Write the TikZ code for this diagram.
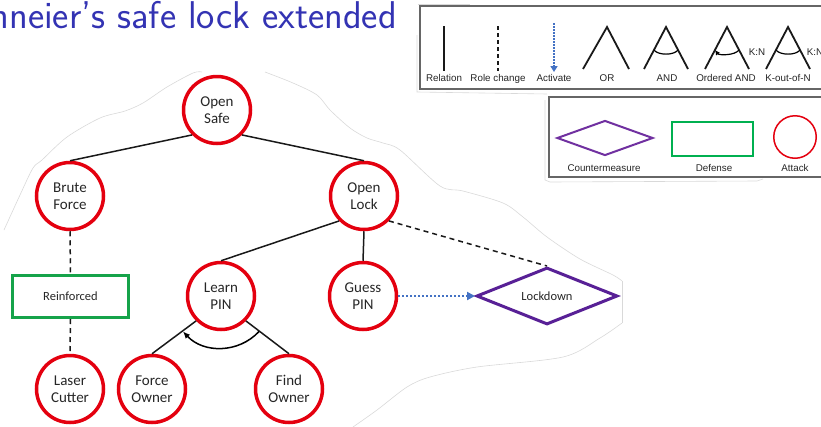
\documentclass[tikz,border=0pt]{standalone}
\usepackage{fontspec}
\newfontfamily\calib{Carlito}
\newfontfamily\arialf{Liberation Sans}
\usetikzlibrary{shapes.geometric,arrows.meta}

\definecolor{attackred}{RGB}{228,0,15}
\definecolor{defgreen}{RGB}{22,163,74}
\definecolor{leggreen}{RGB}{0,176,80}
\definecolor{cmpurple}{RGB}{88,32,150}
\definecolor{legpurple}{RGB}{112,48,160}
\definecolor{actblue}{RGB}{68,114,196}
\definecolor{titleblue}{RGB}{51,51,179}

\tikzset{
  attack/.style={circle, draw=attackred, line width=3.5pt, minimum size=67pt,
    inner sep=0pt, align=center, text=black!85,
    font=\calib\fontsize{15}{17.5}\selectfont},
  defense/.style={rectangle, draw=defgreen, line width=3pt,
    minimum width=116pt, minimum height=42pt, inner sep=0pt, text=black!85,
    font=\calib\fontsize{12.5}{15}\selectfont},
  counter/.style={diamond, draw=cmpurple, line width=3pt, aspect=2.47,
    minimum width=141pt, minimum height=57pt, inner sep=0pt, text=black!85,
    font=\calib\fontsize{12.5}{15}\selectfont},
  rel/.style={line width=1.5pt, draw=black!90},
  rolechg/.style={line width=1.5pt, draw=black!90, dash pattern=on 5pt off 4pt},
  activ/.style={draw=actblue, line width=2pt, dash pattern=on 2pt off 2pt,
    -{Triangle[length=8pt,width=8pt]}},
  faint/.style={draw=gray!30, line width=0.6pt},
  legframe/.style={draw=gray!80!black, line width=1.2pt, fill=white},
  legsym/.style={line width=1.8pt, draw=black!90},
  leglabel/.style={anchor=base, inner sep=0pt, text=black!85,
    font=\arialf\fontsize{9.8}{11}\selectfont},
}

\begin{document}
\begin{tikzpicture}[x=1pt,y=-1pt]
\useasboundingbox (0,0) rectangle (821,426);
\clip (0,0) rectangle (821,426);

% slide title (runs off the left edge)
\node[anchor=base east, inner sep=0pt, text=titleblue,
  font=\sffamily\fontsize{38.7}{42}\selectfont] (title) at (397,28.3)
  {Schneier's safe lock extended};

% faint outline of the pasted tree picture
\draw[faint] plot[smooth, tension=0.5] coordinates {(4,230) (20,195) (33,168)
  (42,160) (67,137) (100,118) (125,111) (143,103) (167,87) (193,73) (202,72)};
\draw[faint] plot[smooth, tension=0.5] coordinates {(265,72) (293,83) (317,95)
  (330,110) (350,128) (367,138) (383,143) (400,150) (440,186) (463,191)
  (503,203) (523,217) (547,237) (580,259) (613,275) (622,281)};
\draw[faint] (622,281) -- (622,323);
\draw[faint] plot[smooth, tension=0.5] coordinates {(622,323) (600,338)
  (563,357) (477,367) (430,377) (407,387) (377,410) (353,427)};

% faint edges round the legend pictures
\draw[faint] (417,35) -- (417,92) -- (547,94);
\draw[faint] (418,4) -- (470,4);
\draw[faint] (545,100) -- (545,180) -- (550,182) -- (757,181) -- (763,179);

% ---------- legend: connector kinds ----------
\draw[legframe] (420,6) rectangle (830,89);
\draw[legsym] (444,26) -- (444,71);
\draw[legsym, dash pattern=on 4pt off 3pt] (498,26) -- (498,71);
\draw[draw=actblue, line width=1.5pt, dash pattern=on 1.5pt off 1.5pt,
  -{Triangle[length=6pt,width=7pt]}] (554,23) -- (554,72);
\draw[legsym] (583,69) -- (607,27) -- (629,69);
\draw[legsym] (644,69) -- (666,27) -- (688,69);
\draw[line width=1.2pt] (678,50) .. controls (674,55.5) and (658,55.5) .. (654,50);
\draw[legsym] (705,69) -- (727,27) -- (749,69);
\draw[line width=1.2pt, -{Latex[length=5pt,width=5pt]}]
  (739,50) .. controls (735,55.5) and (719,55.5) .. (715,50);
\draw[legsym] (766,69) -- (788,27) -- (810,69);
\draw[line width=1.2pt] (800,50) .. controls (796,55.5) and (780,55.5) .. (776,50);

\node[leglabel] (lrel) at (444,81) {Relation};
\node[leglabel] (lrole) at (498,81) {Role change};
\node[leglabel] (lact) at (554,81) {Activate};
\node[leglabel] (lor) at (607,81) {OR};
\node[leglabel] (land) at (667,81) {AND};
\node[leglabel] (lordand) at (726,81) {Ordered AND};
\node[leglabel] (lkn) at (788,81) {K-out-of-N};
\node[leglabel] (lknl) at (757,55.5) {K:N};
\node[leglabel] (lknr) at (815,55.5) {K:N};

% ---------- legend: node kinds ----------
\draw[legframe] (549,97) rectangle (830,177);
\node[diamond, draw=legpurple, line width=2pt, aspect=2.6, inner sep=0pt,
  minimum width=96pt, minimum height=35pt] (lcm) at (605,138) {};
\node[rectangle, draw=leggreen, line width=2pt, inner sep=0pt,
  minimum width=81pt, minimum height=34pt] (ldef) at (712.5,139) {};
\node[circle, draw=attackred, line width=1.5pt, inner sep=0pt,
  minimum size=42.5pt] (latt) at (795,137) {};
\node[leglabel] (tcm) at (604,171) {Countermeasure};
\node[leglabel] (tdef) at (714,171) {Defense};
\node[leglabel] (tatt) at (795,171) {Attack};

% ---------- attack-defense tree ----------
\node[attack] (OS) at (217,110) {Open\\Safe};
\node[attack] (BF) at (70,196) {Brute\\Force};
\node[attack] (OL) at (364,196) {Open\\Lock};
\node[defense] (RF) at (70.5,296.5) {Reinforced};
\node[attack] (LP) at (221,296) {Learn\\PIN};
\node[attack] (GP) at (363,296) {Guess\\PIN};
\node[counter] (LD) at (547,296) {Lockdown};
\node[attack] (LC) at (70,389) {Laser\\Cutter};
\node[attack] (FO) at (152,389) {Force\\Owner};
\node[attack] (FI) at (289,389) {Find\\Owner};

\draw[rel] (OS.south west) -- (BF.north);
\draw[rel] (OS.south east) -- (OL.north);
\draw[rel] (OL.south west) -- (LP.north);
\draw[rel] (OL.south) -- (GP.north);
\draw[rolechg] (OL.south east) -- (LD.north);
\draw[rolechg] (BF.south) -- (RF.north);
\draw[rolechg] (RF.south) -- (LC.north);
\draw[activ] (GP.east) -- (LD.west);
\draw[rel] (LP.south west) -- (FO.north);
\draw[rel] (LP.south east) -- (FI.north);

% ordered AND arc under Learn PIN
\draw[line width=1.5pt, -{Latex[length=7pt,width=6pt]}]
  ([shift={(38,35.5)}]LP.center) .. controls ([shift={(17.5,57.5)}]LP.center)
  and ([shift={(-17.5,57.5)}]LP.center) .. ([shift={(-38,35.5)}]LP.center);
\end{tikzpicture}
\end{document}
